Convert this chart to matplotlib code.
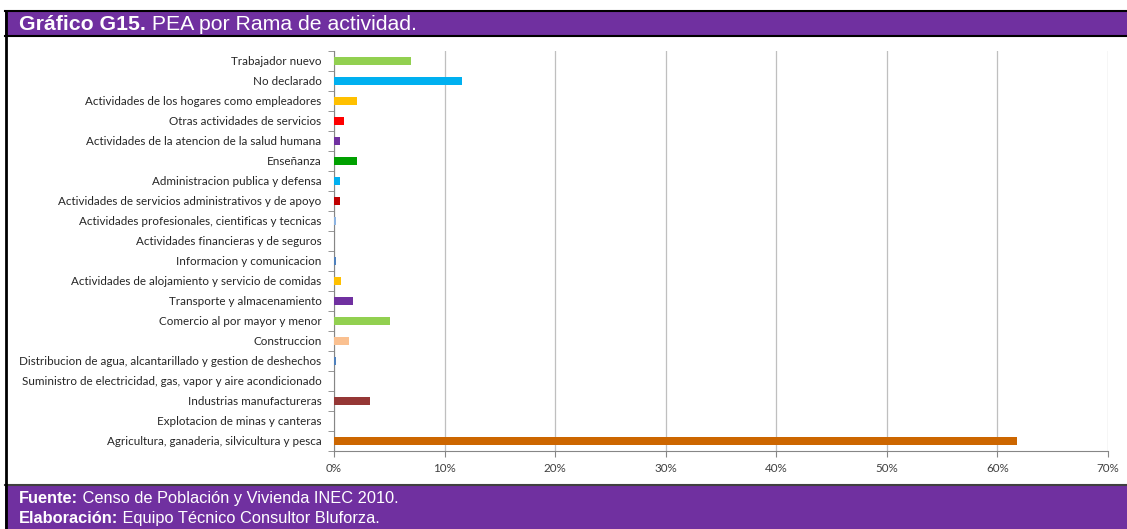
import matplotlib
matplotlib.use("Agg")
import matplotlib.pyplot as plt
from matplotlib.patches import Rectangle
from matplotlib.ticker import FuncFormatter, FixedLocator

# ramas de actividad, de arriba hacia abajo
ramas = [
    "Trabajador nuevo",
    "No declarado",
    "Actividades de los hogares como empleadores",
    "Otras actividades de servicios",
    "Actividades de la atencion de la salud humana",
    "Enseñanza",
    "Administracion publica y defensa",
    "Actividades de servicios administrativos y de apoyo",
    "Actividades profesionales, cientificas y tecnicas",
    "Actividades financieras y de seguros",
    "Informacion y comunicacion",
    "Actividades de alojamiento y servicio de comidas",
    "Transporte y almacenamiento",
    "Comercio al por mayor y menor",
    "Construccion",
    "Distribucion de agua, alcantarillado y gestion de deshechos",
    "Suministro de electricidad, gas, vapor y aire acondicionado",
    "Industrias manufactureras",
    "Explotacion de minas y canteras",
    "Agricultura, ganaderia, silvicultura y pesca",
]
pea = [7.0, 11.6, 2.1, 0.9, 0.5, 2.1, 0.55, 0.55, 0.15, 0.0,
       0.15, 0.65, 1.7, 5.1, 1.35, 0.15, 0.0, 3.3, 0.0, 61.8]
colores = ["#92D050", "#00B0F0", "#FFC000", "#FF0000", "#7030A0",
           "#00A000", "#00B0F0", "#C00000", "#8DB4E2", "#4F81BD",
           "#4F81BD", "#FFC000", "#7030A0", "#92D050", "#FAC090",
           "#4F81BD", "#4F81BD", "#953735", "#4F81BD", "#CC6600"]

titulo_b = "Gráfico G15."
titulo = " PEA por Rama de actividad."
fuente = ("Fuente:", " Censo de Población y Vivienda INEC 2010.")
elab = ("Elaboración:", " Equipo Técnico Consultor Bluforza.")

W, H = 1127, 529
morado = "#7030A0"
fig = plt.figure(figsize=(W / 100, H / 100), dpi=100)

# marco: cabecera, pie y borde izquierdo
fig.patches.append(Rectangle((5 / W, 1 - 36 / H), 1, 25 / H, transform=fig.transFigure,
                             facecolor=morado, edgecolor="none", zorder=0))
fig.patches.append(Rectangle((5 / W, 0), 1, (H - 485) / H, transform=fig.transFigure,
                             facecolor=morado, edgecolor="none", zorder=0))
fig.lines.append(plt.Line2D([5 / W, 1], [1 - 11 / H] * 2, transform=fig.transFigure, color="black", lw=1.5))
fig.lines.append(plt.Line2D([5 / W, 1], [1 - 36 / H] * 2, transform=fig.transFigure, color="black", lw=1.5))
fig.lines.append(plt.Line2D([5 / W, 1], [1 - 484.5 / H] * 2, transform=fig.transFigure, color="#404040", lw=1.5))
fig.lines.append(plt.Line2D([5.5 / W] * 2, [0, 1 - 11 / H], transform=fig.transFigure, color="black", lw=2))

ax = fig.add_axes([334 / W, (H - 451) / H, (1108 - 334) / W, (451 - 51) / H])
y = list(range(len(ramas)))
ax.barh(y, pea, height=0.4, color=colores, zorder=3)
ax.set_ylim(len(ramas) - 0.5, -0.5)
ax.set_xlim(0, 70)
ax.set_yticks(y)
ax.set_yticklabels(ramas, fontsize=8.4, color="#262626", family="Lato")
ax.yaxis.set_minor_locator(FixedLocator([i - 0.5 for i in range(len(ramas) + 1)]))
ax.tick_params(axis="y", which="major", length=0, pad=9)
ax.tick_params(axis="y", which="minor", length=4, color="#868686", direction="out")
ax.set_xticks(range(0, 71, 10))
ax.xaxis.set_major_formatter(FuncFormatter(lambda v, p: f"{v:.0f}%"))
ax.tick_params(axis="x", length=4, color="#868686", labelsize=8.4, labelcolor="#404040", pad=5)
for lbl in ax.get_xticklabels():
    lbl.set_family("Lato")
ax.grid(axis="x", color="#BFBFBF", lw=0.9, zorder=0)
for s in ["top", "right"]:
    ax.spines[s].set_visible(False)
ax.spines["left"].set_color("#868686")
ax.spines["bottom"].set_color("#868686")


def texto_doble(x, yy, negrita, resto, size):
    t = fig.text(x / W, 1 - yy / H, negrita, color="white", fontsize=size, fontweight="bold",
                 family="Liberation Sans", va="baseline")
    fig.canvas.draw()
    bb = t.get_window_extent()
    fig.text(bb.x1 / W, 1 - yy / H, resto, color="white", fontsize=size,
             family="Liberation Sans", va="baseline")


# textos de cabecera y pie
texto_doble(19, 30, titulo_b, titulo, 15.3)
texto_doble(19, 503, *fuente, 11.8)
texto_doble(19, 523, *elab, 11.8)

fig.savefig("out.png", dpi=100)
